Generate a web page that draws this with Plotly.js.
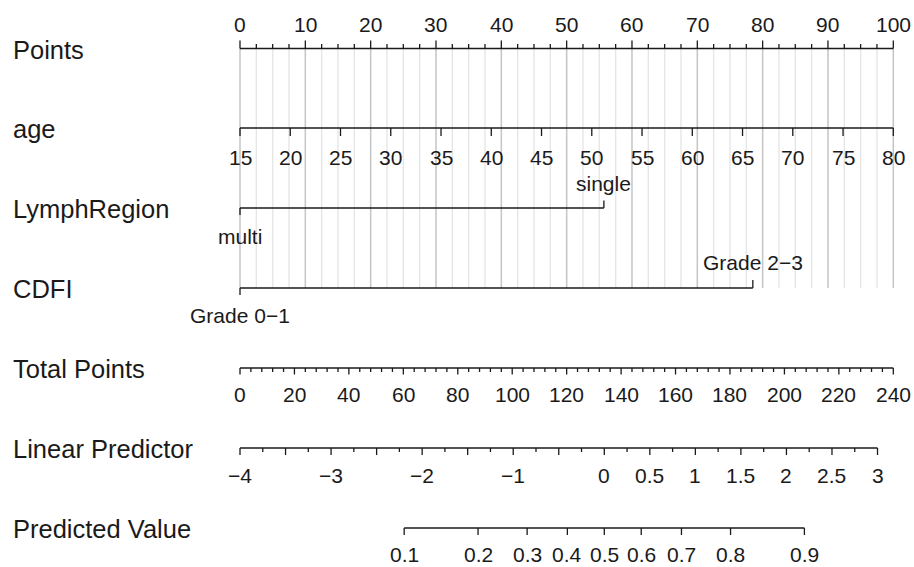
<!DOCTYPE html>
<html><head><meta charset="utf-8">
<script src="https://cdn.plot.ly/plotly-3.0.1.min.js"></script>
<style>html,body{margin:0;padding:0;background:#fff}</style>
</head><body>
<div id="chart" style="width:914px;height:567px"></div>
<script>
// ---------- data ----------
const rowLabels = ['Points','age','LymphRegion','CDFI','Total Points','Linear Predictor','Predicted Value'];
const pointsTicks = [0,10,20,30,40,50,60,70,80,90,100];
const ageTicks = [15,20,25,30,35,40,45,50,55,60,65,70,75,80];
const ageRange = [15,80];
const lymphLevels = ['multi','single'];
const lymphPoints = [0,55.7];
const cdfiLevels = ['Grade 0\u22121','Grade 2\u22123'];
const cdfiPoints = [0,78.5];
const totalTicks = [0,20,40,60,80,100,120,140,160,180,200,220,240];
const totalMax = 240;
const lpLabelTicks = [-4,-3,-2,-1,0,0.5,1,1.5,2,2.5,3];
const lpRange = [-4,3];
const lpTotalAtEnds = [0,234.2];
const predTicks = [0.1,0.2,0.3,0.4,0.5,0.6,0.7,0.8,0.9];

// ---------- scales ----------
const W=914,H=567;
const X0=240, X1=893.3;
const s=(X1-X0)/100;
const xr=[-X0/s, 100+(W-X1)/s];
const agePts = a => (a-ageRange[0])/(ageRange[1]-ageRange[0])*100;
const totPts = t => t*100/totalMax;
const lpTot = l => lpTotalAtEnds[0] + (l-lpRange[0])/(lpRange[1]-lpRange[0])*(lpTotalAtEnds[1]-lpTotalAtEnds[0]);
const lpPts = l => totPts(lpTot(l));
const predPts = p => lpPts(Math.log(p/(1-p)));

const rowY = [48.5,128,208,288,368,448,528];
const INK='#1a1a1a';
const traces=[];
function segs(xs,y0,y1,color,width){
  const x=[],y=[];
  xs.forEach(v=>{x.push(v,v,null);y.push(y0,y1,null);});
  traces.push({type:'scatter',mode:'lines',x:x,y:y,line:{color:color,width:width},hoverinfo:'skip',showlegend:false});
}
function hline(xa,xb,y){
  traces.push({type:'scatter',mode:'lines',x:[xa,xb],y:[y,y],line:{color:INK,width:1.3},hoverinfo:'skip',showlegend:false});
}
const range=(a,b,st)=>{const r=[];for(let v=a;v<=b+1e-9;v+=st)r.push(Math.round(v*1000)/1000);return r;};

// gridlines
const fine = range(0,100,2.5);
segs(fine.filter(v=>Math.abs(v/10-Math.round(v/10))>1e-6), rowY[0], rowY[3], '#e6e6e6', 1.4);
segs(pointsTicks, rowY[0], rowY[3], '#c4c4c4', 1.5);

// Points axis
hline(0,100,rowY[0]);
segs(fine.filter(v=>Math.abs(v/10-Math.round(v/10))>1e-6), rowY[0], rowY[0]-4.5, INK, 1.3);
segs(pointsTicks, rowY[0], rowY[0]-8, INK, 1.3);
// age axis
hline(agePts(ageRange[0]),agePts(ageRange[1]),rowY[1]);
segs(ageTicks.map(agePts), rowY[1], rowY[1]+8, INK, 1.3);
// LymphRegion
hline(lymphPoints[0],lymphPoints[1],rowY[2]);
segs([lymphPoints[0]], rowY[2], rowY[2]+7, INK, 1.3);
segs([lymphPoints[1]], rowY[2], rowY[2]-7.5, INK, 1.3);
// CDFI
hline(cdfiPoints[0],cdfiPoints[1],rowY[3]);
segs([cdfiPoints[0]], rowY[3], rowY[3]+7, INK, 1.3);
segs([cdfiPoints[1]], rowY[3], rowY[3]-8, INK, 1.3);
// Total points
hline(totPts(0),totPts(totalMax),rowY[4]);
segs(range(0,totalMax,4).filter(v=>v%20!==0).map(totPts), rowY[4], rowY[4]+4, INK, 1.3);
segs(totalTicks.map(totPts), rowY[4], rowY[4]+6.5, INK, 1.3);
// Linear predictor
hline(lpPts(lpRange[0]),lpPts(lpRange[1]),rowY[5]);
segs(range(lpRange[0],lpRange[1],0.25).filter(v=>Math.abs(v*2-Math.round(v*2))>1e-6).map(lpPts), rowY[5], rowY[5]+4, INK, 1.3);
segs(range(lpRange[0],lpRange[1],0.5).map(lpPts), rowY[5], rowY[5]+7, INK, 1.3);
// Predicted value
hline(predPts(predTicks[0]),predPts(predTicks[predTicks.length-1]),rowY[6]);
segs(predTicks.map(predPts), rowY[6], rowY[6]+7, INK, 1.3);

// ---------- text ----------
const FONT='"Liberation Sans", Arial, Helvetica, sans-serif';
const anns=[];
function txt(x,y,t,size){
  anns.push({xref:'x',yref:'y',x:x,y:y,text:t,showarrow:false,xanchor:'center',yanchor:'middle',
    font:{family:FONT,size:size||21,color:INK}});
}
const fmt = v => String(v).replace('-','\u2212');
rowLabels.forEach((l,i)=>anns.push({xref:'paper',yref:'y',x:11/W,y:rowY[i]+1,text:l,showarrow:false,
  xanchor:'left',yanchor:'middle',font:{family:FONT,size:25.5,color:INK}}));
pointsTicks.forEach(v=>txt(v,24,fmt(v)));
ageTicks.forEach(v=>txt(agePts(v),157,fmt(v)));
txt(lymphPoints[1],183,lymphLevels[1]);
txt(lymphPoints[0],236,lymphLevels[0]);
txt(cdfiPoints[1],262,cdfiLevels[1]);
txt(cdfiPoints[0],315,cdfiLevels[0]);
totalTicks.forEach(v=>txt(totPts(v),394.5,fmt(v)));
lpLabelTicks.forEach(v=>txt(lpPts(v),475,fmt(v)));
predTicks.forEach(v=>txt(predPts(v),554.5,fmt(v)));

Plotly.newPlot('chart',traces,{
  width:W,height:H,margin:{l:0,r:0,t:0,b:0},
  paper_bgcolor:'#fff',plot_bgcolor:'#fff',
  xaxis:{range:xr,visible:false,fixedrange:true},
  yaxis:{range:[H,0],visible:false,fixedrange:true},
  annotations:anns,showlegend:false
},{staticPlot:true});
</script>
</body></html>
